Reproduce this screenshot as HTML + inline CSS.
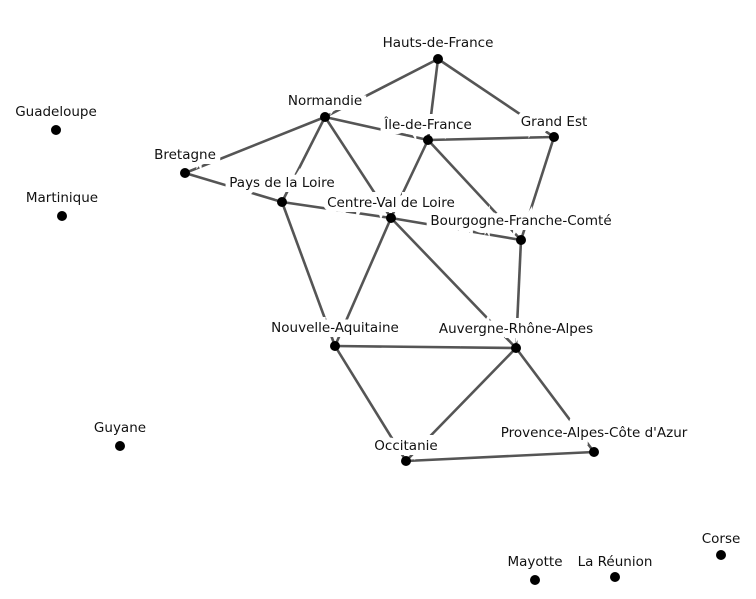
<!DOCTYPE html>
<html><head><meta charset="utf-8"><style>
body{margin:0;background:#fff}
svg text{font-family:"DejaVu Sans","Liberation Sans",sans-serif;font-size:13.5px;fill:#111;text-anchor:middle;paint-order:stroke;stroke:#fff;stroke-width:10px;stroke-linejoin:miter}
</style></head><body>
<svg width="756" height="594" viewBox="0 0 756 594" xmlns="http://www.w3.org/2000/svg">
<g stroke="#555" stroke-width="2.6" fill="none">
<line x1="438" y1="59" x2="325" y2="117"/>
<line x1="438" y1="59" x2="428" y2="140"/>
<line x1="438" y1="59" x2="554" y2="137"/>
<line x1="325" y1="117" x2="428" y2="140"/>
<line x1="325" y1="117" x2="185" y2="173"/>
<line x1="325" y1="117" x2="282" y2="202"/>
<line x1="325" y1="117" x2="391" y2="218"/>
<line x1="428" y1="140" x2="554" y2="137"/>
<line x1="428" y1="140" x2="391" y2="218"/>
<line x1="428" y1="140" x2="521" y2="240"/>
<line x1="554" y1="137" x2="521" y2="240"/>
<line x1="185" y1="173" x2="282" y2="202"/>
<line x1="282" y1="202" x2="391" y2="218"/>
<line x1="282" y1="202" x2="335" y2="346"/>
<line x1="391" y1="218" x2="335" y2="346"/>
<line x1="391" y1="218" x2="516" y2="348"/>
<line x1="391" y1="218" x2="521" y2="240"/>
<line x1="521" y1="240" x2="516" y2="348"/>
<line x1="335" y1="346" x2="516" y2="348"/>
<line x1="335" y1="346" x2="406" y2="461"/>
<line x1="516" y1="348" x2="406" y2="461"/>
<line x1="516" y1="348" x2="594" y2="452"/>
<line x1="406" y1="461" x2="594" y2="452"/>
</g>
<g>
<text x="438" y="47">Hauts-de-France</text>
<text x="325" y="105">Normandie</text>
<text x="428" y="129">Île-de-France</text>
<text x="554" y="126">Grand Est</text>
<text x="185" y="159">Bretagne</text>
<text x="282" y="187">Pays de la Loire</text>
<text x="391" y="207">Centre-Val de Loire</text>
<text x="521" y="225">Bourgogne-Franche-Comté</text>
<text x="335" y="332">Nouvelle-Aquitaine</text>
<text x="516" y="333">Auvergne-Rhône-Alpes</text>
<text x="406" y="450">Occitanie</text>
<text x="594" y="437">Provence-Alpes-Côte d'Azur</text>
<text x="56" y="116">Guadeloupe</text>
<text x="62" y="202">Martinique</text>
<text x="120" y="432">Guyane</text>
<text x="535" y="566">Mayotte</text>
<text x="615" y="566">La Réunion</text>
<text x="721" y="543">Corse</text>
</g>
<g fill="#000">
<circle cx="438" cy="59" r="5"/><circle cx="325" cy="117" r="5"/><circle cx="428" cy="140" r="5"/>
<circle cx="554" cy="137" r="5"/><circle cx="185" cy="173" r="5"/><circle cx="282" cy="202" r="5"/>
<circle cx="391" cy="218" r="5"/><circle cx="521" cy="240" r="5"/><circle cx="335" cy="346" r="5"/>
<circle cx="516" cy="348" r="5"/><circle cx="406" cy="461" r="5"/><circle cx="594" cy="452" r="5"/>
<circle cx="56" cy="130" r="5"/><circle cx="62" cy="216" r="5"/><circle cx="120" cy="446" r="5"/>
<circle cx="535" cy="580" r="5"/><circle cx="615" cy="577" r="5"/><circle cx="721" cy="555" r="5"/>
</g>
</svg>
</body></html>
